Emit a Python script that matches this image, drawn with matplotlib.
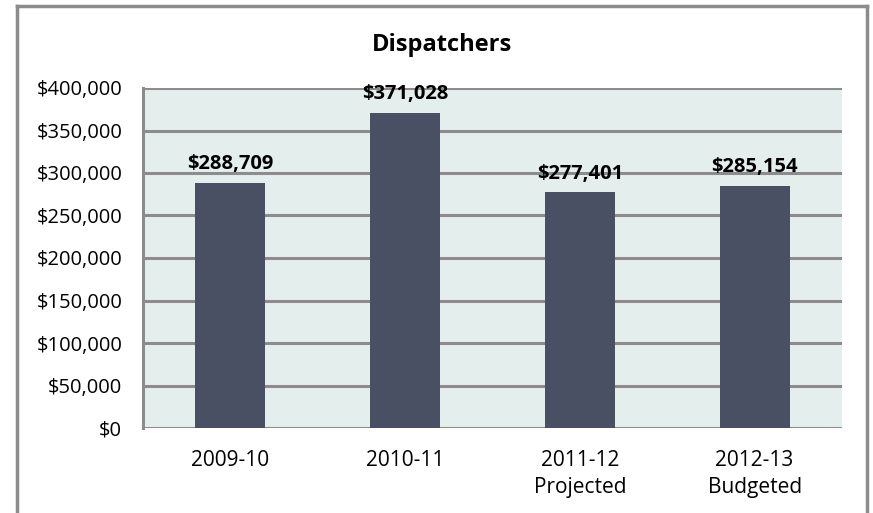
import matplotlib.pyplot as plt
from matplotlib.lines import Line2D
from matplotlib.ticker import FuncFormatter

categories = ['2009-10', '2010-11', '2011-12\nProjected', '2012-13\nBudgeted']
values = [288709, 371028, 277401, 285154]

plt.rcParams['font.family'] = ['Open Sans', 'DejaVu Sans']

fig = plt.figure(figsize=(8.73, 5.13), dpi=100)
ax = fig.add_axes([143 / 873, 1 - 428 / 513, 699 / 873, 340 / 513])

ax.set_facecolor('#E4EEEC')
ax.bar(range(len(values)), values, width=0.4, color='#4A5063', zorder=3)
ax.set_xlim(-0.5, len(values) - 0.5)
ax.set_ylim(0, 400000)
ax.set_yticks(range(0, 400001, 50000))
ax.yaxis.set_major_formatter(FuncFormatter(lambda v, p: '${:,.0f}'.format(v)))
ax.set_xticks(range(len(values)))
ax.set_xticklabels(categories, linespacing=1.35)
ax.grid(axis='y', color='#8C8C8C', linewidth=2.2, zorder=1)
ax.tick_params(axis='y', length=0, labelsize=14.5, pad=15)
ax.tick_params(axis='x', length=0, labelsize=15, pad=16)
for s in ['top', 'right', 'bottom']:
    ax.spines[s].set_visible(False)
ax.spines['left'].set_color('#8C8C8C')
ax.spines['left'].set_linewidth(2.2)

for i, v in enumerate(values):
    ax.annotate('${:,.0f}'.format(v), (i, v), xytext=(0, 6), textcoords='offset points',
                ha='center', va='bottom', fontsize=14.5, fontweight='bold')

fig.text(442 / 873, 1 - 45 / 513, 'Dispatchers', ha='center', va='center',
         fontsize=17, fontweight='bold')

# outer chart border (bottom edge is cut off)
x0, x1, yt = 17 / 873, 867 / 873, 1 - 6 / 513
for xs, ys in [([x0, x0], [0, yt]), ([x0, x1], [yt, yt]), ([x1, x1], [yt, 0])]:
    fig.add_artist(Line2D(xs, ys, color='#8C8C8C', linewidth=2.5))

fig.savefig('out.png', dpi=100)
